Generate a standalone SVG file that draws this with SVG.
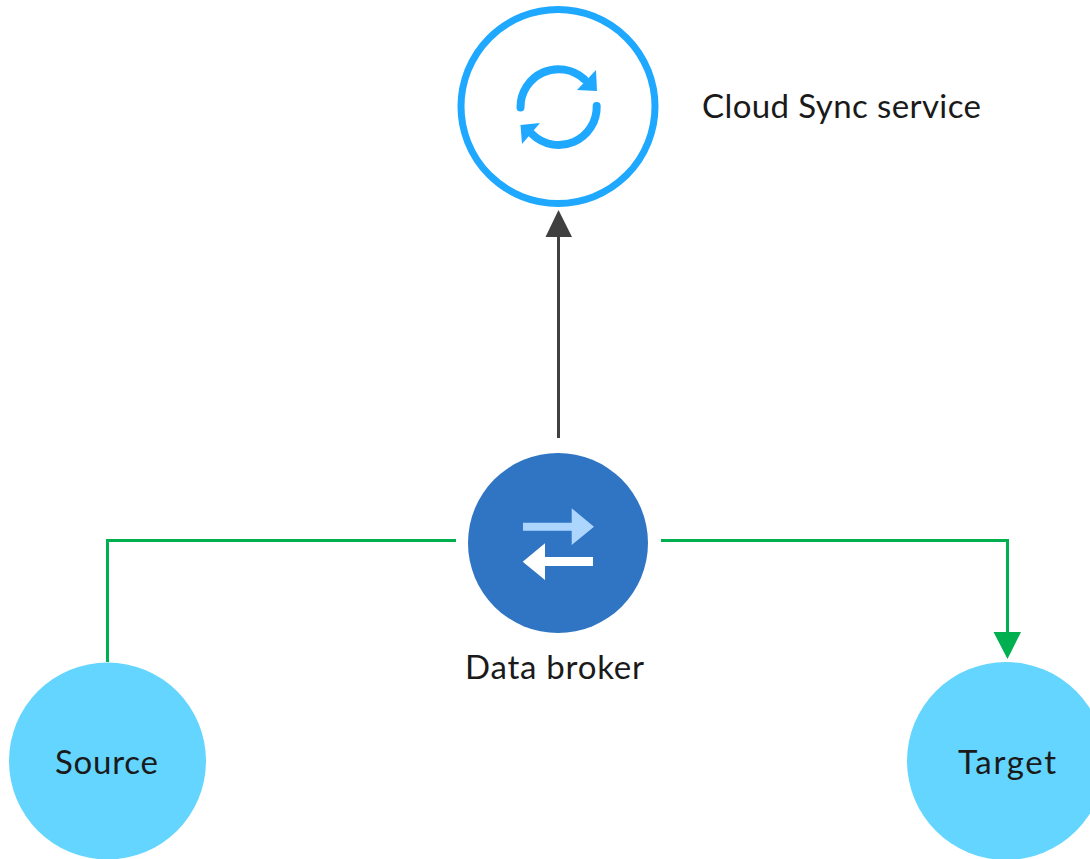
<svg xmlns="http://www.w3.org/2000/svg" width="1090" height="859" viewBox="0 0 1090 859">
<style>
.t{font-family:"Lato","Liberation Sans",sans-serif;font-size:33px;fill:#1a1a1a}
.g{fill:none;stroke:#00b050;stroke-width:3}
.ep{fill:#63d5fe}
.sy{fill:none;stroke:#1fa8ff;stroke-width:8;stroke-linecap:round}
</style>
<rect width="1090" height="859" fill="#fff"/>
<g id="connectors">
<path d="M558.5 438V232" fill="none" stroke="#404040" stroke-width="3"/>
<polygon points="558.5,210 572,237 545.5,237" fill="#404040"/>
<path class="g" d="M107.5 662V540.5H456"/>
<path class="g" d="M661 540.5H1007.5V636"/>
<polygon points="993.5,632 1021,632 1007.5,659" fill="#00b050"/>
</g>
<g id="cloud-sync">
<circle cx="558" cy="106.5" r="97" fill="#fff" stroke="#1fa8ff" stroke-width="7"/>
<path class="sy" d="M520.5 107.5A38 38 0 0 1 584 79" stroke-linecap="round"/>
<polygon points="596,70 597,91 577,90" fill="#1fa8ff"/>
<path class="sy" d="M596.7 106A38 38 0 0 1 532 134"/>
<polygon points="540,123 520.5,125 522,144" fill="#1fa8ff"/>
<text class="t" x="702" y="118" textLength="279">Cloud Sync service</text>
</g>
<g id="data-broker">
<circle cx="558" cy="543" r="90" fill="#2f75c4"/>
<polygon points="523,522.7 571.7,522.7 571.7,508.3 594,526.7 571.7,545 571.7,530.7 523,530.7" fill="#add6ff"/>
<polygon points="593,557 545,557 545,543.3 522.7,561.7 545,580 545,566 593,566" fill="#fff"/>
<text class="t" x="465" y="679" textLength="179">Data broker</text>
</g>
<g id="source">
<circle class="ep" cx="107.5" cy="761" r="98.5"/>
<text class="t" x="55" y="774" textLength="103">Source</text>
</g>
<g id="target">
<circle class="ep" cx="1006" cy="761" r="99"/>
<text class="t" x="958" y="774" textLength="98">Target</text>
</g>
</svg>
